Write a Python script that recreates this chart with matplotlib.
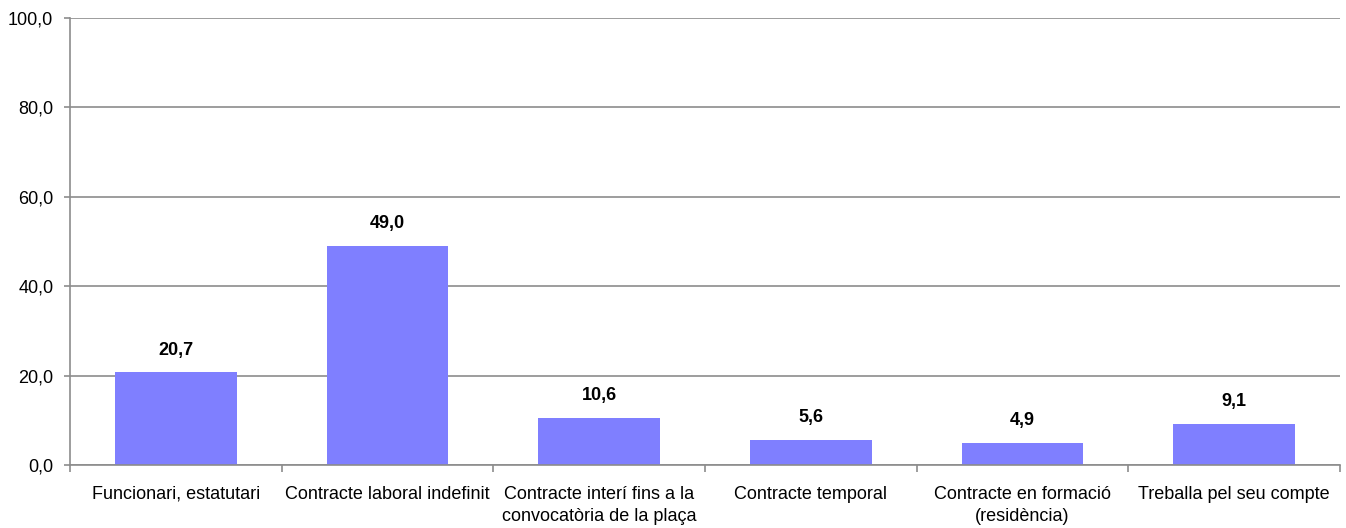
import matplotlib.pyplot as plt
import numpy as np

categories = ['Funcionari, estatutari', 'Contracte laboral indefinit',
              'Contracte interí fins a la\nconvocatòria de la plaça',
              'Contracte temporal', 'Contracte en formació\n(residència)',
              'Treballa pel seu compte']
values = [20.7, 49.0, 10.6, 5.6, 4.9, 9.1]
yticks = [0, 20, 40, 60, 80, 100]

plt.rcParams['font.family'] = ['Liberation Sans Narrow', 'Liberation Sans', 'DejaVu Sans']

fig = plt.figure(figsize=(13.46, 5.28), dpi=100)
ax = fig.add_axes([70/1346, 63/528, 1270/1346, 447/528])

x = np.arange(len(values))
ax.bar(x, values, width=0.575, color='#7f7fff', zorder=2)
for xi, v in zip(x, values):
    ax.annotate(('%.1f' % v).replace('.', ','), (xi, v), xytext=(0, 10),
                textcoords='offset points', ha='center', va='bottom',
                fontsize=13, fontweight='bold')

ax.set_xlim(-0.5, len(values) - 0.5)
ax.set_ylim(0, 100)
ax.set_yticks(yticks)
ax.set_yticklabels([('%.1f' % t).replace('.', ',') for t in yticks], fontsize=13)
ax.yaxis.grid(True, color='#8c8c8c', lw=1.2, zorder=0)

ax.set_xticks(x)
ax.set_xticklabels(categories, fontsize=13, linespacing=1.4)
ax.set_xticks(np.arange(len(values) + 1) - 0.5, minor=True)
ax.tick_params(axis='x', which='major', length=0, pad=15)
ax.tick_params(axis='x', which='minor', length=5, width=1.2, color='#8c8c8c')
ax.tick_params(axis='y', length=4, width=1.2, color='#8c8c8c', pad=8)

for s in ['top', 'right']:
    ax.spines[s].set_visible(False)
for s in ['left', 'bottom']:
    ax.spines[s].set_color('#8c8c8c')
    ax.spines[s].set_linewidth(1.2)

fig.savefig('out.png', dpi=100)
